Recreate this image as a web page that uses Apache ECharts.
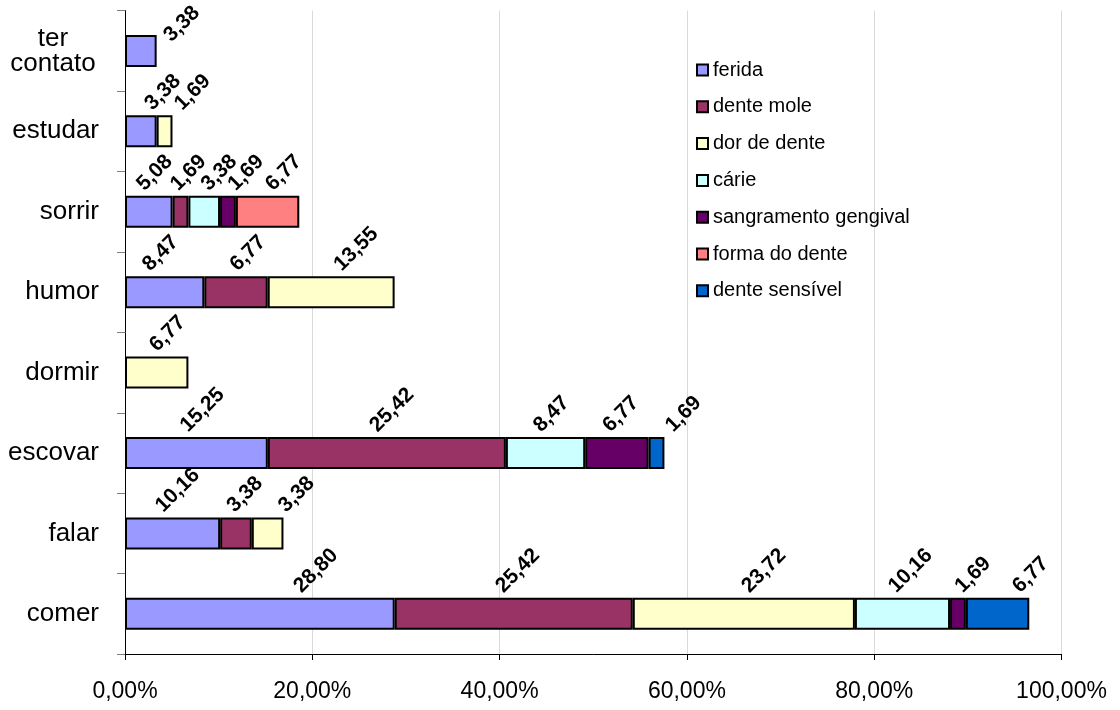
<!DOCTYPE html>
<html>
<head>
<meta charset="utf-8">
<script src="https://cdn.jsdelivr.net/npm/echarts@6/dist/echarts.min.js"></script>
<style>
  html, body { margin: 0; padding: 0; background: #fff; }
  #chart { width: 1120px; height: 710px; }
</style>
</head>
<body>
<div id="chart"></div>
<script>
// Categories, bottom to top
const categories = ['comer', 'falar', 'escovar', 'dormir', 'humor', 'sorrir', 'estudar', 'ter contato'];

// Percent values per series (null = no segment)
const ferida        = [28.80, 10.16, 15.25, null, 8.47, 5.08, 3.38, 3.38];
const denteMole     = [25.42, 3.38, 25.42, null, 6.77, 1.69, null, null];
const dorDeDente    = [23.72, 3.38, null, 6.77, 13.55, null, 1.69, null];
const carie         = [10.16, null, 8.47, null, null, 3.38, null, null];
const sangramento   = [1.69, null, 6.77, null, null, 1.69, null, null];
const formaDoDente  = [null, null, null, null, null, 6.77, null, null];
const denteSensivel = [6.77, null, 1.69, null, null, null, null, null];

const xTicks = [0, 20, 40, 60, 80, 100];

// Horizontal screen nudges (px) for the rotated value labels
const nudgeFerida      = [45, -6, -5, 0, -11, -1, 15, 34];
const nudgeDenteMole   = [-7, 2, -6, 0, 5, 1, 0, 0];
const nudgeDor         = [9, 22, 0, 4, 14, 0, 21, 0];
const nudgeCarie       = [-3, 0, -1, 0, 0, 8, 0, 0];
const nudgeSangramento = [8, 0, -3, 0, 0, 11, 0, 0];
const nudgeForma       = [0, 0, 0, 0, 0, 9, 0, 0];
const nudgeSensivel    = [26, 0, 20, 0, 0, 0, 0, 0];
// Vertical screen nudges per category row
const nudgeRow         = [0, 0, 0, 0, 0, 0, 0, 12];

const FONT = '"Liberation Sans", Arial, sans-serif';
const LABEL_ROTATE = 45;

const seriesDefs = [
  { name: 'ferida', values: ferida, nudge: nudgeFerida, color: '#9999FF' },
  { name: 'dente mole', values: denteMole, nudge: nudgeDenteMole, color: '#993366' },
  { name: 'dor de dente', values: dorDeDente, nudge: nudgeDor, color: '#FFFFCC' },
  { name: 'cárie', values: carie, nudge: nudgeCarie, color: '#CCFFFF' },
  { name: 'sangramento gengival', values: sangramento, nudge: nudgeSangramento, color: '#660066' },
  { name: 'forma do dente', values: formaDoDente, nudge: nudgeForma, color: '#FF8080' },
  { name: 'dente sensível', values: denteSensivel, nudge: nudgeSensivel, color: '#0066CC' }
];

const fmt = v => v.toFixed(2).replace('.', ',');

// label.offset is applied in the rotated text frame; convert a screen shift into it
function rotatedOffset(dx, dy) {
  const t = LABEL_ROTATE * Math.PI / 180;
  const c = Math.cos(t), s = Math.sin(t);
  return [dx * c - dy * s, dx * s + dy * c];
}

const series = seriesDefs.map(def => ({
  name: def.name,
  type: 'bar',
  stack: 'total',
  barWidth: 32,
  itemStyle: { color: def.color, borderColor: '#000', borderWidth: 2 },
  label: {
    show: true,
    position: 'top',
    distance: 1,
    rotate: LABEL_ROTATE,
    align: 'left',
    verticalAlign: 'bottom',
    fontFamily: FONT,
    fontWeight: 'bold',
    fontSize: 21,
    color: '#000',
    formatter: p => fmt(p.value)
  },
  data: def.values.map((v, i) => v == null ? null : {
    value: v,
    label: { offset: rotatedOffset(def.nudge[i], nudgeRow[i]) }
  })
}));

const chart = echarts.init(document.getElementById('chart'), null, { renderer: 'canvas' });
chart.setOption({
  animation: false,
  backgroundColor: '#fff',
  grid: { left: 125, right: 58.5, top: 10.7, bottom: 56, containLabel: false },
  legend: {
    orient: 'vertical',
    left: 691,
    top: 55,
    itemWidth: 11,
    itemHeight: 11,
    itemGap: 16.8,
    icon: 'rect',
    itemStyle: { borderColor: '#000', borderWidth: 2 },
    textStyle: { fontFamily: FONT, fontSize: 20, lineHeight: 20, color: '#000' },
    data: seriesDefs.map(d => d.name)
  },
  xAxis: {
    type: 'value',
    min: xTicks[0],
    max: xTicks[xTicks.length - 1],
    interval: 20,
    axisLine: { show: true, lineStyle: { color: '#000', width: 1 } },
    axisTick: { show: true, length: 6, lineStyle: { color: '#000' } },
    splitLine: { show: true, lineStyle: { color: '#d9d9d9', width: 1 } },
    axisLabel: {
      margin: 26,
      fontFamily: FONT,
      fontSize: 23,
      color: '#000',
      formatter: v => fmt(v) + '%'
    }
  },
  yAxis: {
    type: 'category',
    data: categories,
    axisLine: { show: true, lineStyle: { color: '#000', width: 1 } },
    axisTick: { show: true, length: 8, lineStyle: { color: '#808080' } },
    splitLine: { show: false },
    axisLabel: {
      margin: 26,
      fontFamily: FONT,
      fontSize: 26,
      color: '#000',
      formatter: v => v.includes(' ') ? v.split(' ').map(w => '{m|' + w + '}').join('\n') : v,
      rich: { m: { width: 92, align: 'center', fontFamily: FONT, fontSize: 26, lineHeight: 25, color: '#000' } }
    }
  },
  series: series
});
</script>
</body>
</html>
